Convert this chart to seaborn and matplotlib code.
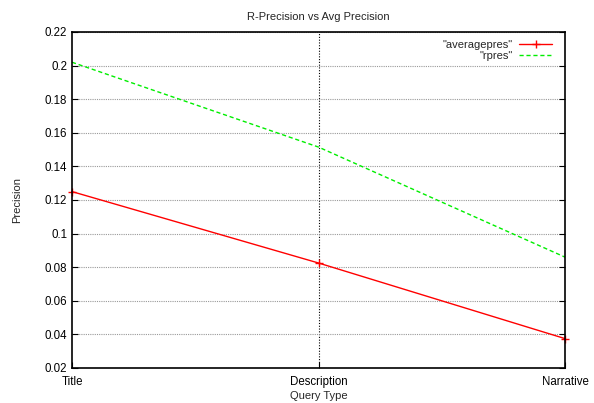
import matplotlib
matplotlib.use("Agg")
import matplotlib.pyplot as plt
import seaborn as sns
import pandas as pd

categories = ["Title", "Description", "Narrative"]
averagepres = [0.125, 0.0825, 0.0375]
rpres = [0.202, 0.1515, 0.086]
yticks = [0.02, 0.04, 0.06, 0.08, 0.1, 0.12, 0.14, 0.16, 0.18, 0.2, 0.22]
ytick_labels = ["0.02", "0.04", "0.06", "0.08", "0.1", "0.12", "0.14", "0.16", "0.18", "0.2", "0.22"]

sns.set_style("white")
plt.rcParams['font.family'] = ['Liberation Sans', 'DejaVu Sans']

df = pd.DataFrame({
    "x": list(range(len(categories))) * 2,
    "value": averagepres + rpres,
    "series": ['"averagepres"'] * 3 + ['"rpres"'] * 3,
})

fig = plt.figure(figsize=(5.94, 4.03), dpi=100)
ax = fig.add_axes([72 / 594, 35 / 403, (565 - 72) / 594, (368 - 32) / 403])

sns.lineplot(data=df, x="x", y="value", hue="series", style="series",
             palette={'"averagepres"': "#ff0000", '"rpres"': "#00ee00"},
             dashes={'"averagepres"': (None, None), '"rpres"': (3, 2)},
             markers={'"averagepres"': "+", '"rpres"': ""},
             markersize=6, markeredgewidth=1.0, markeredgecolor="#ff0000",
             linewidth=1.0, ax=ax, clip_on=False)

ax.set_xlim(0, 2)
ax.set_ylim(0.02, 0.22)
ax.set_xticks(range(len(categories)))
ax.set_xticklabels(categories)
ax.set_yticks(yticks)
ax.set_yticklabels(ytick_labels)
ax.tick_params(axis="both", labelsize=8.3, direction="in", length=4, width=0.8,
               right=True, top=False, bottom=True, left=True, colors="black")
ax.tick_params(axis="x", pad=6)
for s in ax.spines.values():
    s.set_color("black")
    s.set_linewidth(1.2)

ax.yaxis.grid(True, linestyle=(0, (1, 1)), color="#999999", linewidth=0.8)
ax.axvline(1, linestyle=(0, (1, 1.5)), color="black", linewidth=0.8, zorder=0)

ax.set_title("R-Precision vs Avg Precision", fontsize=8, pad=9)
ax.set_xlabel("Query Type", fontsize=8, labelpad=2)
ax.set_ylabel("Precision", fontsize=8, labelpad=16)

leg = ax.legend(loc="upper right", bbox_to_anchor=(0.982, 0.99), frameon=False,
                markerfirst=False, fontsize=8, handlelength=2.9, labelspacing=0.1,
                borderaxespad=0.0, handletextpad=0.6)
for t in leg.get_texts():
    t.set_ha("right")

fig.savefig("out.png", dpi=100)
